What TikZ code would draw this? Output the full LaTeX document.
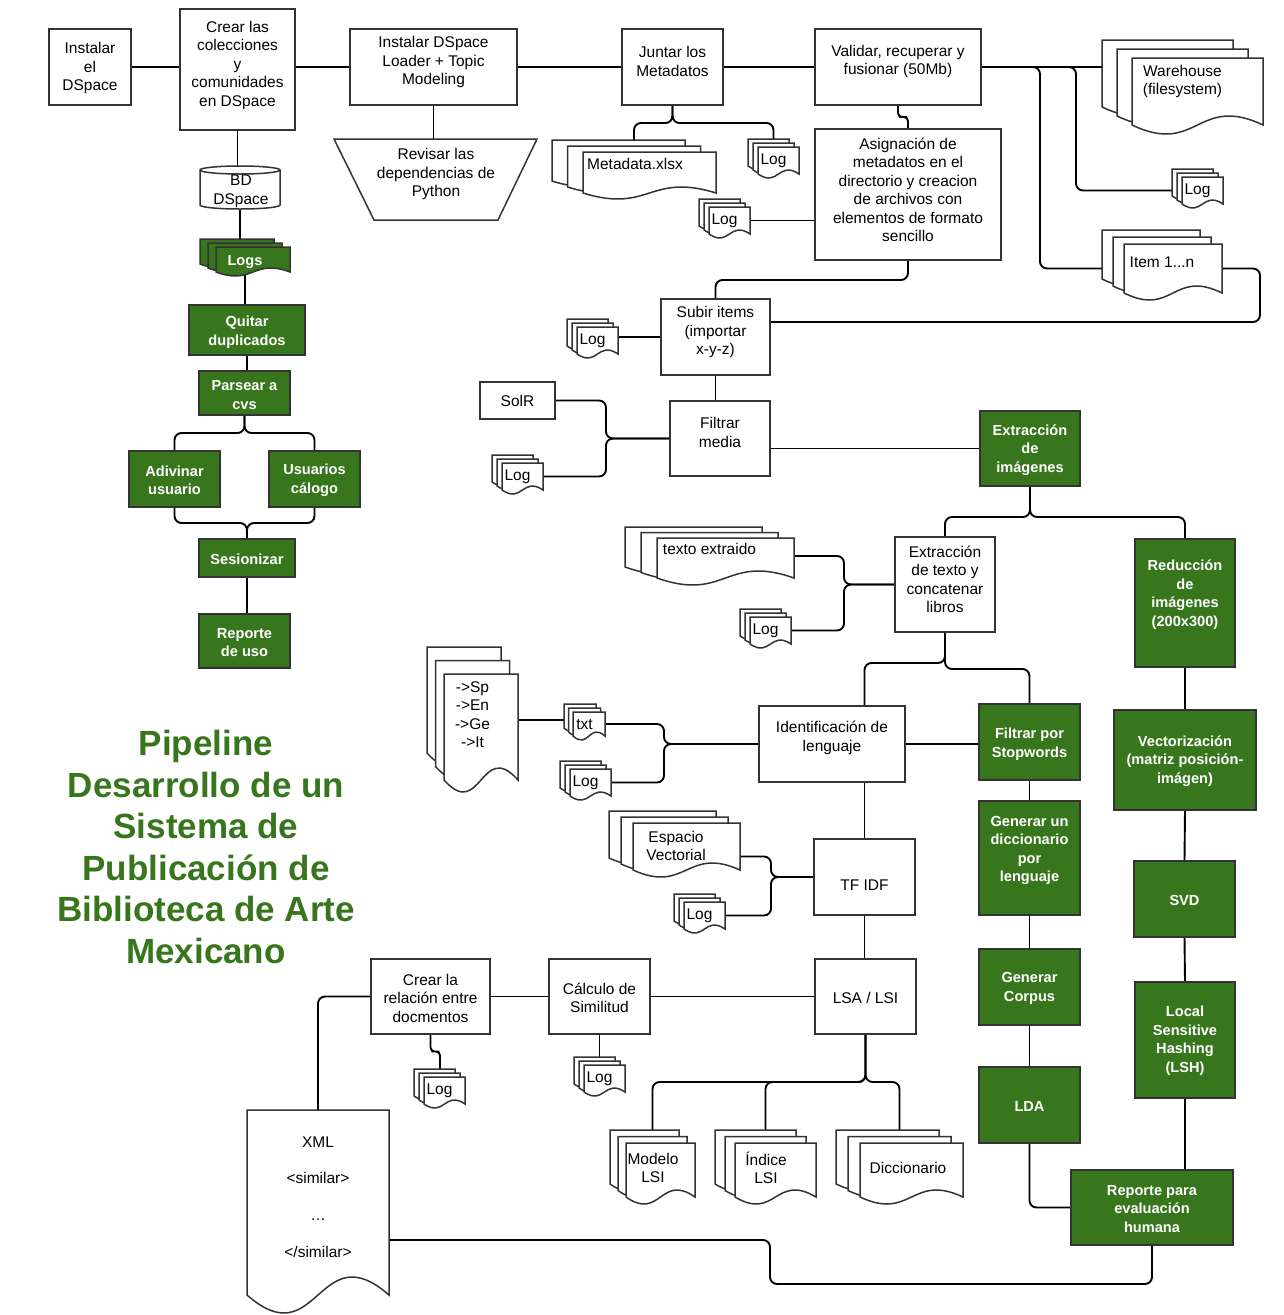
\documentclass[tikz,border=0pt]{standalone}
\usepackage{fontspec}
\setmainfont{Liberation Sans}
\usetikzlibrary{calc}
\definecolor{gr}{HTML}{38761D}
\definecolor{bord}{HTML}{333333}
\pgfdeclarelayer{bg}
\pgfsetlayers{bg,main}
\tikzset{
  proc/.style={draw=bord, line width=1.5pt, fill=white, inner sep=0pt, outer sep=0pt},
  gbox/.style={draw=bord, line width=1.5pt, fill=gr, inner sep=0pt, outer sep=0pt},
  ptxt/.style={font=\fontsize{15.5}{18.5}\selectfont, align=center, inner sep=0pt, text=black},
  gtxt/.style={font=\fontsize{14.6}{18.5}\selectfont\bfseries, align=center, inner sep=0pt, text=white},
  ttl/.style={font=\fontsize{35}{41.5}\selectfont\bfseries, align=center, inner sep=0pt, text=gr},
  conn/.style={draw=black, line width=1.9pt, rounded corners=7pt},
  pg/.style={draw=bord, line width=1.5pt, fill=white},
  gpg/.style={draw=bord, line width=1.5pt, fill=gr},
  ghost/.style={inner sep=0pt, outer sep=0pt, draw=none, fill=none, shape=rectangle},
}
% box helpers: name, x1, y1, x2, y2, text y, text
\newcommand\mkproc[7]{%
  \node[proc, minimum width={(#4-#2)*1pt}, minimum height={(#5-#3)*1pt}] (#1) at ({(#2+#4)/2},{(#3+#5)/2}) {};
  \node[ptxt] (#1-t) at ({(#2+#4)/2},{#6}) {#7};}
\newcommand\mkgreen[7]{%
  \node[gbox, minimum width={(#4-#2)*1pt}, minimum height={(#5-#3)*1pt}] (#1) at ({(#2+#4)/2},{(#3+#5)/2}) {};
  \node[gtxt] (#1-t) at ({(#2+#4)/2},{#6}) {#7};}
% document page: style, x, y, w, h, amp
\newcommand\mkpage[6]{%
  \path[#1] ({#2},{#3}) -- ({#2+#4},{#3}) -- ({#2+#4},{#3+#5})
    .. controls ({#2+0.5*#4},{#3+#5-3.46*#6}) and ({#2+0.5*#4},{#3+#5+3.46*#6}) .. ({#2},{#3+#5}) -- cycle;}
% multi document: style, name, x, y, w, h, dx, dy, amp
\newcommand\mkdoc[9]{%
  \mkpage{#1}{#3}{#4}{#5}{#6}{#9}
  \mkpage{#1}{#3+#7}{#4+#8}{#5}{#6}{#9}
  \mkpage{#1}{#3+2*#7}{#4+2*#8}{#5}{#6}{#9}
  \node[ghost, minimum width={#5*1pt}, minimum height={#6*1pt}] (#2-b) at ({#3+#5/2},{#4+#6/2}) {};
  \node[ghost, minimum width={#5*1pt}, minimum height={#6*1pt}] (#2-m) at ({#3+#7+#5/2},{#4+#8+#6/2}) {};
  \node[ghost, minimum width={#5*1pt}, minimum height={#6*1pt}] (#2) at ({#3+2*#7+#5/2},{#4+2*#8+#6/2}) {};
  \coordinate (#2-c) at ({#3+#7+#5/2},{#4+2*#8+#6/2});}
\begin{document}
\begin{tikzpicture}[x=1pt,y=-1pt]
\useasboundingbox (0,0) rectangle (1284,1315);
\begin{pgfonlayer}{bg}
\fill[white] (0,0) rectangle (1284,1315);
\end{pgfonlayer}

% title
\node[ttl] (title) at (206,847) {Pipeline\\Desarrollo de un\\Sistema de\\Publicación de\\Biblioteca de Arte\\Mexicano};

% white process boxes
\mkproc{inst}{49}{29}{131}{105}{68}{Instalar\\el\\DSpace}
\mkproc{crear}{180}{9}{295}{130}{65}{Crear las\\colecciones\\y\\comunidades\\en DSpace}
\mkproc{loader}{350}{29}{517}{105}{62}{Instalar DSpace\\Loader + Topic\\Modeling}
\mkproc{juntar}{622}{29}{723}{105}{61.5}{Juntar los\\Metadatos}
\mkproc{validar}{815}{29}{981}{105}{61.5}{Validar, recuperar y\\fusionar (50Mb)}
\mkproc{asig}{815}{129}{1001}{260}{190}{Asignación de\\metadatos en el\\directorio y creacion\\de archivos con\\elementos de formato\\sencillo}
\mkproc{subir}{661}{299}{770}{375}{332}{Subir items\\(importar\\x-y-z)}
\mkproc{solr}{480}{382}{555}{419}{401}{SolR}
\mkproc{filtrar}{670}{401}{770}{476}{432.5}{Filtrar\\media}
\mkproc{extxt}{895}{537}{995}{632}{579.5}{Extracción\\de texto y\\concatenar\\libros}
\mkproc{ident}{759}{706}{905}{782}{738}{Identificación de\\lenguaje}
\mkproc{tfidf}{814}{839}{915}{915}{885}{TF IDF}
\mkproc{lsa}{815}{959}{916}{1034}{998}{LSA / LSI}
\mkproc{simil}{549}{959}{650}{1034}{998}{Cálculo de\\Similitud}
\mkproc{crel}{371}{959}{490}{1034}{998}{Crear la\\relación entre\\docmentos}

% trapezoid
\path[pg] (334,139) -- (537,139) -- (498,220) -- (374,220) -- cycle;
\coordinate (trapn) at (435.5,139);
\node[ptxt] (trap-t) at (436,174) {Revisar las\\dependencias de\\Python};

% cylinder
\path[pg] (200,170) -- (200,205) arc[start angle=180, end angle=360, x radius=40pt, y radius=4pt]
  -- (280,170) arc[start angle=0, end angle=180, x radius=40pt, y radius=4pt] -- cycle;
\draw[draw=bord, line width=1.5pt] (200,170) arc[start angle=180, end angle=360, x radius=40pt, y radius=4pt];
\coordinate (cyln) at (240,166);
\coordinate (cyls) at (240,209);
\node[ptxt] (cyl-t) at (241,191.5) {BD\\DSpace};

% green boxes
\mkgreen{quitar}{189}{305}{305}{355}{332}{Quitar\\duplicados}
\mkgreen{parsear}{199}{371}{290}{415}{395}{Parsear a\\cvs}
\mkgreen{adiv}{129}{451}{220}{507}{480.5}{Adivinar\\usuario}
\mkgreen{usu}{269}{451}{360}{507}{480}{Usuarios\\cálogo}
\mkgreen{sesion}{199}{539}{295}{577}{559}{Sesionizar}
\mkgreen{repuso}{199}{614}{290}{668}{642.5}{Reporte\\de uso}
\mkgreen{extimg}{980}{411}{1080}{486}{450}{Extracción\\de\\imágenes}
\mkgreen{reduc}{1135}{539}{1235}{667}{594.5}{Reducción\\de\\imágenes\\(200x300)}
\mkgreen{stop}{979}{704}{1080}{780}{744}{Filtrar por\\Stopwords}
\mkgreen{gdic}{979}{801}{1080}{915}{850.5}{Generar un\\diccionario\\por\\lenguaje}
\mkgreen{corpus}{979}{949}{1080}{1025}{988.5}{Generar\\Corpus}
\mkgreen{lda}{979}{1067}{1080}{1143}{1106}{LDA}
\mkgreen{vect}{1114}{710}{1256}{810}{761}{Vectorización\\(matriz posición-\\imágen)}
\mkgreen{svd}{1134}{861}{1235}{937}{900}{SVD}
\mkgreen{lsh}{1135}{982}{1235}{1098}{1040.5}{Local\\Sensitive\\Hashing\\(LSH)}
\mkgreen{reval}{1071}{1170}{1233}{1245}{1209}{Reporte para\\evaluación\\humana}

% documents
\mkdoc{pg}{meta}{552}{140}{133}{41}{15.5}{6}{6}
\node[ptxt] (meta-t) at (635,164) {Metadata.xlsx};
\mkdoc{pg}{logmeta}{748}{139}{41}{27}{5}{4}{4}
\node[ptxt] (logmeta-t) at (773.5,160.5) {Log};
\mkdoc{pg}{logasig}{699}{199}{41}{27}{5}{4}{4}
\node[ptxt] (logasig-t) at (724.5,220.5) {Log};
\mkdoc{pg}{wh}{1102}{40}{131}{67}{15}{9}{9}
\node[ptxt] (wh-t) at (1182.5,81.5) {Warehouse\\(filesystem)};
\mkdoc{pg}{logwh}{1172}{169}{41}{27}{5}{4}{4}
\node[ptxt] (logwh-t) at (1197.5,190.5) {Log};
\mkdoc{pg}{item}{1102}{230}{98}{49}{11}{7}{7}
\node[ptxt] (item-t) at (1162,262) {Item 1...n};
\mkdoc{pg}{logsubir}{567}{319}{41}{27}{5}{4}{4}
\node[ptxt] (logsubir-t) at (592.5,340.5) {Log};
\mkdoc{pg}{logsolr}{492}{455}{41}{27}{5}{4}{4}
\node[ptxt] (logsolr-t) at (517.5,476.5) {Log};
\mkdoc{pg}{texto}{625}{527}{137}{40}{16}{5.5}{7}
\node[ptxt] (texto-t) at (709.5,549) {texto extraido};
\mkdoc{pg}{logext}{740}{609}{41}{27}{5}{4}{4}
\node[ptxt] (logext-t) at (765.5,630.5) {Log};
\mkdoc{pg}{sp}{427}{647}{74}{106}{8.5}{13.5}{12}
\node[ptxt] (sp-t) at (472.5,714.5) {->Sp\\->En\\->Ge\\->It};
\mkdoc{pg}{txt}{564}{704}{32}{24}{4.5}{4}{4}
\node[ptxt] (txt-t) at (584.5,724.5) {txt};
\mkdoc{pg}{logid}{560}{761}{41}{27}{5}{4}{4}
\node[ptxt] (logid-t) at (585.5,782.5) {Log};
\mkdoc{pg}{esp}{609}{811}{107}{47}{12}{6}{7}
\node[ptxt] (esp-t) at (676,846) {Espacio\\Vectorial};
\mkdoc{pg}{logtf}{674}{894}{41}{27}{5}{4}{4}
\node[ptxt] (logtf-t) at (699.5,915.5) {Log};
\mkdoc{pg}{logcr}{414}{1069}{41}{27}{5}{4}{4}
\node[ptxt] (logcr-t) at (439.5,1090.5) {Log};
\mkdoc{pg}{logsim}{574}{1057}{41}{27}{5}{4}{4}
\node[ptxt] (logsim-t) at (599.5,1078.5) {Log};
\mkdoc{pg}{modelo}{610}{1130}{69}{54}{8}{6.5}{7}
\node[ptxt] (modelo-t) at (653,1168) {Modelo\\LSI};
\mkdoc{pg}{indice}{715}{1130}{81}{54}{10}{6.5}{7}
\node[ptxt] (indice-t) at (766,1168) {Índice\\LSI};
\mkdoc{pg}{dicc}{836}{1130}{103}{54}{12}{6.5}{7}
\node[ptxt] (dicc-t) at (908,1168) {Diccionario};
\mkdoc{gpg}{logs}{200}{239}{74}{25}{8}{4}{4}
\node[gtxt] (logs-t) at (245,262) {Logs};

% XML document
\mkpage{pg}{247}{1110}{142}{185}{18}
\node[ghost, minimum width=142pt, minimum height=185pt] (xml) at (318,1202.5) {};
\node[ptxt, font=\fontsize{15.5}{36.7}\selectfont] (xml-t) at (318,1197) {XML\\<similar>\\…\\</similar>};

% connectors
\begin{pgfonlayer}{bg}
\draw[conn] (inst.east) -- (inst.east -| crear.west);
\draw[conn] (crear.east |- loader.west) -- (loader.west);
\draw[conn] (loader.east) -- (juntar.west);
\draw[conn] (juntar.east) -- (validar.west);
\draw[conn] (validar.east) -- (wh-b.west |- validar.east);
\draw[conn] (validar.east) -- ++(59,0) |- (item.west);
\draw[conn] (validar.east) -- ++(95,0) |- (logwh.west);
\draw[conn] (item.east) -- ++(38,0) |- ($(subir.east)+(0,-15)$);
\draw[conn,rounded corners=4pt] (validar.south) |- ($(validar.south)!0.5!(asig.north)$) -| (asig.north);
\draw[conn] (logasig.east) -- (logasig.east -| asig.west);
\draw[conn] (asig.south) -- ++(0,20) -| (subir.north);
\draw[conn] (juntar.south) -- ++(0,18) -| (meta-c);
\draw[conn] (juntar.south) -- ++(0,18) -| (logmeta-c);
\draw[conn] (loader.south) -- (loader.south |- trapn);
\draw[conn] (crear.south) -- (crear.south |- cyln);
\draw[conn] (cyls) -- (cyls |- logs-c);
\draw[conn] (logs-c) -- (logs-c |- quitar.north);
\draw[conn] (quitar.south) -- (quitar.south |- parsear.north);
\draw[conn] (parsear.south) -- ++(0,18) -| (adiv.north);
\draw[conn] (parsear.south) -- ++(0,18) -| (usu.north);
\draw[conn] (adiv.south) -- ++(0,16) -| (sesion.north);
\draw[conn] (usu.south) -- ++(0,16) -| (sesion.north);
\draw[conn] (sesion.south) -- (sesion.south |- repuso.north);
\draw[conn] (subir.west) -- (subir.west -| logsubir.east);
\draw[conn] (subir.south) -- (subir.south |- filtrar.north);
\draw[conn] (filtrar.west) -- ++(-64,0) |- (solr.east);
\draw[conn] (filtrar.west) -- ++(-64,0) |- (logsolr.east);
\draw[conn] (filtrar.east |- extimg.west) -- (extimg.west);
\draw[conn] (extimg.south) -- ++(0,31) -| (extxt.north);
\draw[conn] (extimg.south) -- ++(0,31) -| (reduc.north);
\draw[conn] (extxt.west) -- ++(-51,0) |- ($(texto.east)+(0,-2)$);
\draw[conn] (extxt.west) -- ++(-51,0) |- (logext.east);
\draw[conn] (extxt.south) -- ++(0,31) -| (tfidf.north |- ident.north);
\draw[conn] (extxt.south) -- ++(0,37) -| (stop.north);
\draw[conn] (ident.west) -- ++(-95,0) |- (txt.east);
\draw[conn] (ident.west) -- ++(-95,0) |- (logid.east);
\draw[conn] (txt-m.west -| sp.east) -- (txt-m.west);
\draw[conn] (ident.east) -- (ident.east -| stop.west);
\draw[conn] (tfidf.north |- ident.south) -- (tfidf.north);
\draw[conn] (tfidf.west) -- ++(-43,0) |- ($(esp.east)+(0,10)$);
\draw[conn] (tfidf.west) -- ++(-43,0) |- (logtf.east);
\draw[conn] (tfidf.south) -- (tfidf.south |- lsa.north);
\draw[conn] (lsa.west) -- (simil.east);
\draw[conn] (simil.west) -- (crel.east);
\draw[conn] (crel.west) -| (xml.north);
\coordinate (crlt) at ($(logcr-b.north)+(5.5,0)$);
\draw[conn,rounded corners=4pt] (crel.south) |- ($(crel.south)!0.5!(crlt)$) -| (crlt);
\draw[conn] (simil.south) -- (simil.south |- logsim-b.north);
\draw[conn] (lsa.south) -- ++(0,48) -| (modelo-c);
\draw[conn] (lsa.south) -- ++(0,48) -| (indice-c);
\draw[conn] (lsa.south) -- ++(0,48) -| (dicc-c);
\draw[conn] (stop.south) -- (gdic.north);
\draw[conn] (gdic.south) -- (corpus.north);
\draw[conn] (corpus.south) -- (lda.north);
\draw[conn] (lda.south) |- (reval.west);
\draw[conn] (reduc.south) -- (vect.north);
\draw[conn] (vect.south) -- (svd.north);
\draw[conn] (svd.south) -- (lsh.north);
\draw[conn] (lsh.south) -- (lsh.south |- reval.north);
\draw[conn] (reval.south) -- ++(0,39) -| ($(xml.east)+(381,37.5)$) -- ($(xml.east)+(0,37.5)$);
\end{pgfonlayer}
\end{tikzpicture}
\end{document}
